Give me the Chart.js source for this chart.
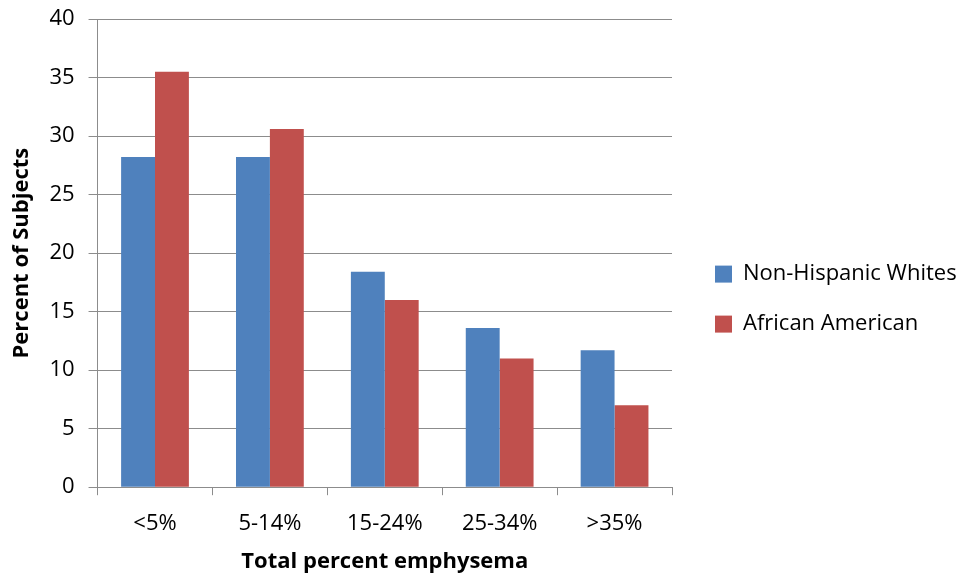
<!DOCTYPE html>
<html>
<head>
<meta charset="utf-8">
<script src="https://cdn.jsdelivr.net/npm/chart.js@4/dist/chart.umd.min.js"></script>
<style>
  html, body { margin: 0; padding: 0; background: #fff; }
  #wrap { width: 970px; height: 582px; }
</style>
</head>
<body>
<div id="wrap"><canvas id="emphysema_chart" width="970" height="582"></canvas></div>
<script>
var categories = ['<5%', '5-14%', '15-24%', '25-34%', '>35%'];
var seriesNames = ['Non-Hispanic Whites', 'African American'];
var whites = [28.2, 28.2, 18.4, 13.6, 11.7];
var african = [35.5, 30.6, 16.0, 11.0, 7.0];
var yTicks = [0, 5, 10, 15, 20, 25, 30, 35, 40];

var font = "'Open Sans', 'Liberation Sans', sans-serif";
var gridGray = '#8c8c8c';
var legendWidth = 283;

// legend on the right would be capped at a quarter of the canvas, keep it wide enough
var legendFit = {
    id: 'legendFit',
    beforeLayout: function (chart) {
        var lg = chart.legend;
        if (lg && !lg.fitWrapped) {
            var fit = lg.fit;
            lg.fit = function () {
                fit.call(this);
                if (!this.isHorizontal()) this.width = legendWidth;
            };
            lg.fitWrapped = true;
        }
    }
};

var chartdata = {
    labels: categories,
    datasets: [
        {
            label: seriesNames[0],
            backgroundColor: '#4f81bd',
            data: whites
        },
        {
            label: seriesNames[1],
            backgroundColor: '#c0504d',
            data: african
        }
    ]
};

var ctx = document.getElementById('emphysema_chart');

var barGraph = new Chart(ctx, {
    type: 'bar',
    data: chartdata,
    plugins: [legendFit],
    options: {
        responsive: false,
        animation: false,
        layout: { padding: { top: 0, left: 5, right: 0, bottom: 3 } },
        datasets: {
            bar: { categoryPercentage: 0.59, barPercentage: 1.0 }
        },
        plugins: {
            tooltip: { enabled: false },
            legend: {
                position: 'right',
                // empty title only nudges the items down a little
                title: { display: true, text: '', font: { size: 16 }, padding: 0 },
                labels: {
                    color: '#000',
                    font: { family: font, size: 22 },
                    boxWidth: 17,
                    boxHeight: 17,
                    padding: 28
                }
            }
        },
        scales: {
            x: {
                offset: true,
                afterFit: function (axis) { axis.height -= 3; },
                grid: {
                    offset: true,
                    drawOnChartArea: false,
                    drawTicks: true,
                    tickLength: 8,
                    color: gridGray
                },
                border: { color: gridGray, width: 1 },
                ticks: {
                    color: '#000',
                    font: { family: font, size: 22 },
                    padding: 15
                },
                title: {
                    display: true,
                    text: 'Total percent emphysema',
                    color: '#000',
                    font: { family: font, size: 22, weight: 'bold' },
                    padding: { top: 0, bottom: 4 }
                }
            },
            y: {
                min: 0,
                max: 40,
                afterBuildTicks: function (axis) {
                    axis.ticks = yTicks.map(function (v) { return { value: v }; });
                },
                afterFit: function (axis) { axis.paddingTop = 19; },
                grid: {
                    color: gridGray,
                    drawTicks: true,
                    tickLength: 9
                },
                border: { color: gridGray, width: 1 },
                ticks: {
                    color: '#000',
                    font: { family: font, size: 22 },
                    padding: 14
                },
                title: {
                    display: true,
                    text: 'Percent of Subjects',
                    color: '#000',
                    font: { family: font, size: 22, weight: 'bold' },
                    padding: { top: 4, bottom: 0 }
                }
            },
            // empty right axis, only keeps the gap between plot and legend
            gap: {
                type: 'linear',
                position: 'right',
                display: true,
                grid: { display: false },
                border: { display: false },
                ticks: { display: false },
                afterFit: function (axis) { axis.width = 15; }
            }
        }
    }
});
</script>
</body>
</html>
